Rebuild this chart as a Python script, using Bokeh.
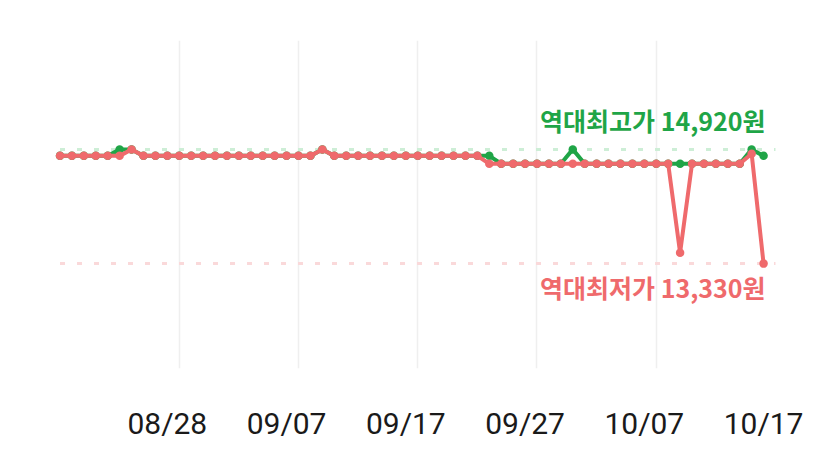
from bokeh.plotting import figure
from bokeh.models import FixedTicker, Range1d, ColumnDataSource
from bokeh.core.properties import value
from bokeh.embed import file_html
from bokeh.resources import INLINE

# day index 0 = 08/19 ... 59 = 10/17
day_index = list(range(60))
tick_days = [9, 19, 29, 39, 49, 59]
tick_labels = ["08/28", "09/07", "09/17", "09/27", "10/07", "10/17"]
grid_days = [10, 20, 30, 40, 50]

high_price = ([14830] * 5 + [14920, 14920] + [14830] * 15 + [14920] + [14830] * 14
              + [14720] * 6 + [14920] + [14720] * 14 + [14920, 14830])
low_price = ([14830] * 6 + [14920] + [14830] * 15 + [14920] + [14830] * 13
             + [14720] * 16 + [13480] + [14720] * 5 + [14860, 13330])

record_high = 14920
record_low = 13330

GREEN = "#1fa547"
RED = "#ef6a6c"
PALE_GREEN = "#cdeed6"
PALE_RED = "#fad9da"

p = figure(width=819, height=449, output_backend="svg", toolbar_location=None,
           x_range=Range1d(-4.99, 63.69), y_range=Range1d(11870, 16436),
           min_border_left=0, min_border_right=0, min_border_top=40, min_border_bottom=81)
p.outline_line_color = None
p.background_fill_color = "white"
p.border_fill_color = "white"
p.yaxis.visible = False
p.ygrid.visible = False
p.xgrid.ticker = FixedTicker(ticks=grid_days)
p.xgrid.grid_line_color = "#efefef"
p.xgrid.grid_line_width = 1.5

p.xaxis.ticker = FixedTicker(ticks=tick_days)
p.xaxis.major_label_overrides = {d: l for d, l in zip(tick_days, tick_labels)}
p.xaxis.axis_line_color = None
p.xaxis.major_tick_line_color = None
p.xaxis.minor_tick_line_color = None
p.xaxis.major_tick_out = 0
p.xaxis.major_tick_in = 0
p.xaxis.major_label_standoff = 37
p.xaxis.major_label_text_font = "Roboto"
p.xaxis.major_label_text_font_size = "30px"
p.xaxis.major_label_text_color = "#1a1a1a"

n = len(day_index)
p.segment(x0=[0], x1=[n], y0=[record_high], y1=[record_high],
          line_color=PALE_GREEN, line_width=3, line_dash="5 12")
p.segment(x0=[0], x1=[n], y0=[record_low], y1=[record_low],
          line_color=PALE_RED, line_width=3, line_dash="5 12")

src = ColumnDataSource(dict(x=day_index, hi=high_price, lo=low_price))
p.line("x", "hi", source=src, line_color=GREEN, line_width=4, line_join="round")
p.scatter("x", "hi", source=src, size=8.5, fill_color=GREEN, line_color=None)
p.line("x", "lo", source=src, line_color=RED, line_width=4, line_join="round")
p.scatter("x", "lo", source=src, size=8.5, fill_color=RED, line_color=None)

last = day_index[-1]
p.text(x=[last], y=[record_high], text=[f"역대최고가 {record_high:,}원"],
       x_offset=2, y_offset=-29, text_align="right", text_baseline="alphabetic",
       text_font=value("Noto Sans CJK KR"), text_font_size="25px", text_font_style="bold",
       text_color=GREEN)
p.text(x=[last], y=[record_low], text=[f"역대최저가 {record_low:,}원"],
       x_offset=2, y_offset=23, text_align="right", text_baseline="alphabetic",
       text_font=value("Noto Sans CJK KR"), text_font_size="25px", text_font_style="bold",
       text_color=RED)

open("out.html", "w").write(file_html(p, INLINE))
